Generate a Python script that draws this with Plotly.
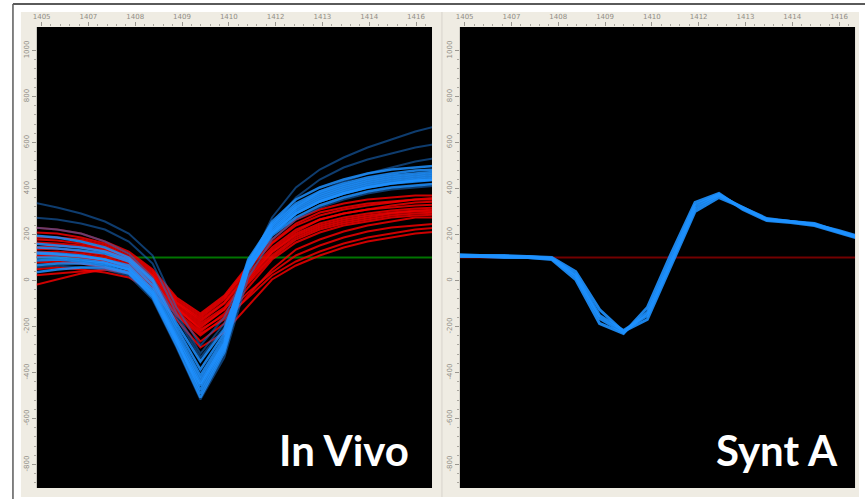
import plotly.graph_objects as go

W, H = 865, 499

# sample index along each recorded spike
samples = list(range(18))

# In vivo recordings, red units (amplitude, uV)
red_units = [
    [15, 14, 12, 8, 0, -18, -45, -62, -45, -15, 10, 28, 38, 44, 48, 50, 52, 53],
    [5, 6, 4, 0, -6, -24, -52, -70, -52, -22, 5, 22, 32, 38, 42, 45, 47, 48],
    [25, 24, 20, 14, 4, -14, -42, -58, -40, -10, 15, 34, 45, 50, 54, 56, 58, 58],
    [-5, -4, -6, -10, -15, -30, -58, -78, -60, -30, -2, 15, 25, 32, 36, 40, 42, 43],
    [10, 12, 10, 6, -2, -20, -48, -66, -50, -20, 6, 24, 34, 40, 44, 47, 49, 50],
    [-28, -22, -16, -12, -14, -26, -50, -72, -58, -35, -15, 2, 12, 20, 26, 30, 32, 34],
    [30, 28, 24, 16, 6, -12, -40, -56, -38, -8, 18, 38, 48, 54, 58, 60, 62, 62],
    [0, 2, 0, -4, -10, -28, -56, -84, -66, -38, -12, 8, 18, 26, 32, 36, 40, 40],
    [18, 17, 14, 9, 0, -18, -46, -64, -46, -18, 8, 26, 38, 44, 48, 52, 55, 56],
    [-12, -10, -12, -15, -20, -34, -62, -90, -75, -48, -22, -8, 2, 10, 16, 20, 24, 26],
    [8, 9, 6, 2, -4, -22, -50, -68, -52, -24, 2, 20, 30, 36, 40, 44, 46, 46],
    [-18, -16, -14, -12, -16, -30, -56, -76, -62, -40, -18, -4, 6, 14, 20, 24, 28, 30],
    [20, 20, 18, 12, 2, -16, -44, -60, -42, -12, 14, 32, 42, 48, 52, 55, 58, 60],
    [2, 3, 1, -3, -8, -26, -54, -74, -56, -26, 0, 18, 28, 34, 38, 42, 44, 45],
]

# In vivo recordings, blue units (amplitude, uV)
blue_units = [
    [10, 9, 7, 4, -4, -28, -74, -118, -80, -4, 32, 52, 64, 72, 78, 82, 84, 86],
    [5, 4, 2, -2, -10, -34, -80, -126, -86, -8, 28, 48, 60, 68, 74, 78, 80, 82],
    [0, 0, -2, -5, -12, -36, -84, -132, -90, -10, 26, 46, 58, 66, 72, 76, 78, 80],
    [-8, -6, -6, -8, -15, -40, -88, -140, -95, -12, 24, 44, 56, 64, 70, 74, 76, 78],
    [14, 12, 10, 6, -2, -24, -70, -112, -76, -2, 34, 54, 66, 74, 80, 84, 87, 88],
    [-15, -12, -10, -10, -16, -38, -84, -128, -88, -12, 22, 40, 52, 60, 66, 70, 72, 74],
    [22, 20, 16, 10, 0, -22, -66, -104, -72, -6, 36, 58, 70, 78, 84, 88, 90, 92],
    [4, 3, 1, -2, -8, -32, -78, -122, -84, -6, 30, 50, 62, 70, 76, 80, 82, 84],
    [-3, -2, -4, -6, -12, -36, -82, -136, -92, -10, 24, 44, 56, 64, 70, 74, 77, 78],
]

# fainter blue units
blue_faint = [
    [55, 50, 44, 36, 24, 2, -50, -88, -60, -10, 40, 70, 88, 100, 110, 118, 126, 132],
    [40, 38, 34, 28, 16, -6, -56, -96, -66, -16, 32, 60, 78, 90, 98, 104, 110, 114],
    [30, 28, 24, 16, 4, -20, -60, -100, -70, -14, 26, 50, 66, 76, 84, 90, 96, 100],
    [-10, -8, -10, -12, -18, -42, -90, -142, -100, -20, 18, 38, 50, 58, 64, 68, 70, 72],
]

# synthetic unit A
synt_a = [
    [2, 2, 1, 1, -1, -19, -61, -75, -55, -1, 52, 63, 49, 38, 36, 33, 26, 19],
    [3, 2, 2, 1, 0, -14, -52, -74, -62, -8, 46, 60, 50, 39, 36, 33, 27, 20],
    [2, 1, 1, 0, -2, -22, -66, -76, -50, 4, 55, 64, 48, 37, 35, 32, 25, 18],
    [1, 1, 0, 0, -1, -17, -58, -73, -58, -4, 49, 62, 50, 38, 36, 34, 26, 19],
]

panel_labels = ["In Vivo", "Synt A"]
x_ruler_text = ["1405", "1407", "1408", "1409", "1410", "1412", "1413", "1414", "1416"]
y_ruler_text = ["1000", "800", "600", "400", "200", "0", "-200", "-400", "-600", "-800"]

fig = go.Figure()


def px_x(p):
    return p / W


def px_y(p):
    return 1 - p / H


# baselines
fig.add_trace(go.Scatter(x=samples, y=[0] * len(samples), mode="lines",
                         line=dict(color="rgb(0,115,0)", width=2),
                         xaxis="x", yaxis="y", hoverinfo="skip"))
fig.add_trace(go.Scatter(x=samples, y=[0] * len(samples), mode="lines",
                         line=dict(color="rgb(115,0,0)", width=2),
                         xaxis="x2", yaxis="y2", hoverinfo="skip"))

for ys in red_units:
    fig.add_trace(go.Scatter(x=samples, y=ys, mode="lines",
                             line=dict(color="rgba(240,0,0,0.85)", width=2),
                             xaxis="x", yaxis="y"))
for ys in blue_faint:
    fig.add_trace(go.Scatter(x=samples, y=ys, mode="lines",
                             line=dict(color="rgba(25,110,200,0.55)", width=2),
                             xaxis="x", yaxis="y"))
for ys in blue_units:
    fig.add_trace(go.Scatter(x=samples, y=ys, mode="lines",
                             line=dict(color="rgba(30,145,255,0.85)", width=2.5),
                             xaxis="x", yaxis="y"))
for ys in synt_a:
    fig.add_trace(go.Scatter(x=samples, y=ys, mode="lines",
                             line=dict(color="rgba(30,145,255,0.9)", width=3),
                             xaxis="x2", yaxis="y2"))

x_range = [0.15, 16.7]
y_range = [-230.5, 230.5]
x_ticks = [0.35 + 1.96 * k for k in range(len(x_ruler_text))]
x_minor = [0.35 + 0.392 * k for k in range(43)]
y_ticks = [207 - 46 * k for k in range(len(y_ruler_text))]

ruler_font = dict(family="DejaVu Sans", size=7, color="#8f8c86")

axis_common_x = dict(range=x_range, showgrid=False, zeroline=False, side="top",
                     tickvals=x_ticks, ticktext=x_ruler_text, ticks="outside",
                     ticklen=4, tickcolor="#9a9790", tickfont=ruler_font,
                     minor=dict(tickvals=x_minor, ticks="outside", ticklen=2,
                                tickcolor="#aaa79f"),
                     showline=False, fixedrange=True)
axis_common_y = dict(range=y_range, showgrid=False, zeroline=False,
                     tickvals=y_ticks, ticktext=y_ruler_text, ticks="outside",
                     ticklen=4, tickcolor="#9a9790", tickfont=ruler_font,
                     tickangle=-90,
                     minor=dict(tickvals=[207 - 9.2 * k for k in range(50)],
                                ticks="outside", ticklen=2, tickcolor="#aaa79f"),
                     showline=False, fixedrange=True)

ydom = [px_y(488), px_y(27)]
fig.update_layout(
    width=W, height=H,
    margin=dict(l=0, r=0, t=0, b=0),
    paper_bgcolor="white",
    plot_bgcolor="black",
    showlegend=False,
    xaxis=dict(domain=[px_x(33), px_x(430)], anchor="y", **axis_common_x),
    yaxis=dict(domain=ydom, anchor="x", **axis_common_y),
    xaxis2=dict(domain=[px_x(458), px_x(855)], anchor="y2", **axis_common_x),
    yaxis2=dict(domain=ydom, anchor="x2", **axis_common_y),
)

shapes = []
# ruler frames behind each panel
for x0, x1 in [(17, 440), (440, 859)]:
    shapes.append(dict(type="rect", xref="paper", yref="paper", layer="below",
                       x0=px_x(x0), x1=px_x(x1), y0=px_y(497), y1=px_y(12),
                       fillcolor="rgb(239,236,227)", line=dict(width=0)))
# black plotting areas
for x0, x1 in [(33, 430), (458, 855)]:
    shapes.append(dict(type="rect", xref="paper", yref="paper", layer="below",
                       x0=px_x(x0), x1=px_x(x1), y0=px_y(488), y1=px_y(27),
                       fillcolor="black", line=dict(width=0)))
# divider between the two panels
shapes.append(dict(type="line", xref="paper", yref="paper",
                   x0=px_x(440), x1=px_x(440), y0=px_y(497), y1=px_y(12),
                   line=dict(color="rgb(215,212,204)", width=1)))
# outer window frame
shapes.append(dict(type="line", xref="paper", yref="paper",
                   x0=px_x(9), x1=1, y0=px_y(4), y1=px_y(4),
                   line=dict(color="#5a5a5a", width=2)))
shapes.append(dict(type="line", xref="paper", yref="paper",
                   x0=px_x(9), x1=px_x(9), y0=0, y1=px_y(4),
                   line=dict(color="#5a5a5a", width=1.5)))
fig.update_layout(shapes=shapes)

label_font = dict(family="Lato", size=42, color="white", weight="bold")
for text, cx in zip(panel_labels, [342, 777]):
    fig.add_annotation(text=text, xref="paper", yref="paper",
                       x=px_x(cx), y=px_y(450), xanchor="center", yanchor="middle",
                       showarrow=False, font=label_font)

fig.write_html("out.html")
